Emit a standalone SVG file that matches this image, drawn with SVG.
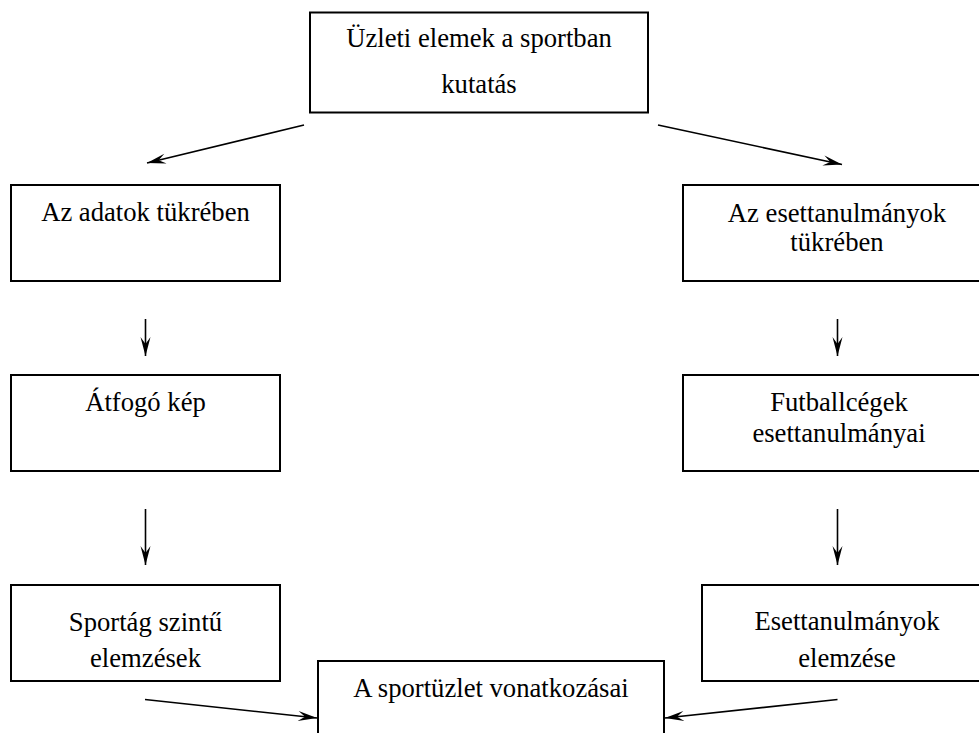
<svg xmlns="http://www.w3.org/2000/svg" width="979" height="733" viewBox="0 0 979 733">
<style>
  .box { fill: #fff; stroke: #000; stroke-width: 2; }
  .t { font-size: 26.67px; fill: #000; text-anchor: middle; }
  .c { stroke: #000; stroke-width: 1.6; fill: none; marker-end: url(#ah); }
</style>
<defs>
  <marker id="ah" markerUnits="userSpaceOnUse" markerWidth="24" markerHeight="14" viewBox="-20 -7 22 14" refX="0" refY="0" orient="auto">
    <path d="M0,0 L-19,-5 L-12,0 L-19,5 Z" fill="#000"/>
  </marker>
</defs>
<rect width="979" height="733" fill="#fff"/>
<g font-family="'Liberation Serif', 'DejaVu Serif', serif">
<g id="node-top">
  <rect class="box" x="310" y="12.5" width="338" height="100"/>
  <text class="t" x="479" y="47">Üzleti elemek a sportban</text>
  <text class="t" x="479" y="93">kutatás</text>
</g>
<g id="node-adatok">
  <rect class="box" x="11" y="185" width="269" height="96"/>
  <text class="t" x="145.5" y="221">Az adatok tükrében</text>
</g>
<g id="node-esettanulmanyok">
  <rect class="box" x="683" y="185" width="310" height="96"/>
  <text class="t" x="837" y="221.5">Az esettanulmányok</text>
  <text class="t" x="837" y="250.5">tükrében</text>
</g>
<g id="node-atfogo">
  <rect class="box" x="11" y="375" width="269" height="96"/>
  <text class="t" x="145.5" y="411">Átfogó kép</text>
</g>
<g id="node-futball">
  <rect class="box" x="683" y="375" width="310" height="96"/>
  <text class="t" x="839" y="411">Futballcégek</text>
  <text class="t" x="839" y="441.5">esettanulmányai</text>
</g>
<g id="node-sportag">
  <rect class="box" x="11" y="585" width="269" height="96"/>
  <text class="t" x="145.5" y="630.5">Sportág szintű</text>
  <text class="t" x="145.5" y="666.5">elemzések</text>
</g>
<g id="node-eset-elemzese">
  <rect class="box" x="702" y="585" width="291" height="96"/>
  <text class="t" x="847" y="630">Esettanulmányok</text>
  <text class="t" x="847" y="666.5">elemzése</text>
</g>
<g id="node-sportuzlet">
  <rect class="box" x="318" y="661" width="346" height="90"/>
  <text class="t" x="491" y="697">A sportüzlet vonatkozásai</text>
</g>
</g>
<g id="connectors">
  <line class="c" x1="304" y1="125" x2="147" y2="163"/>
  <line class="c" x1="658" y1="125" x2="842" y2="164.5"/>
  <line class="c" x1="145.5" y1="319" x2="145.5" y2="356"/>
  <line class="c" x1="837.5" y1="319" x2="837.5" y2="356"/>
  <line class="c" x1="145.5" y1="509" x2="145.5" y2="565"/>
  <line class="c" x1="837.5" y1="509" x2="837.5" y2="565"/>
  <line class="c" x1="145" y1="699.5" x2="317" y2="718"/>
  <line class="c" x1="837.5" y1="699.5" x2="665" y2="718"/>
</g>
</svg>
